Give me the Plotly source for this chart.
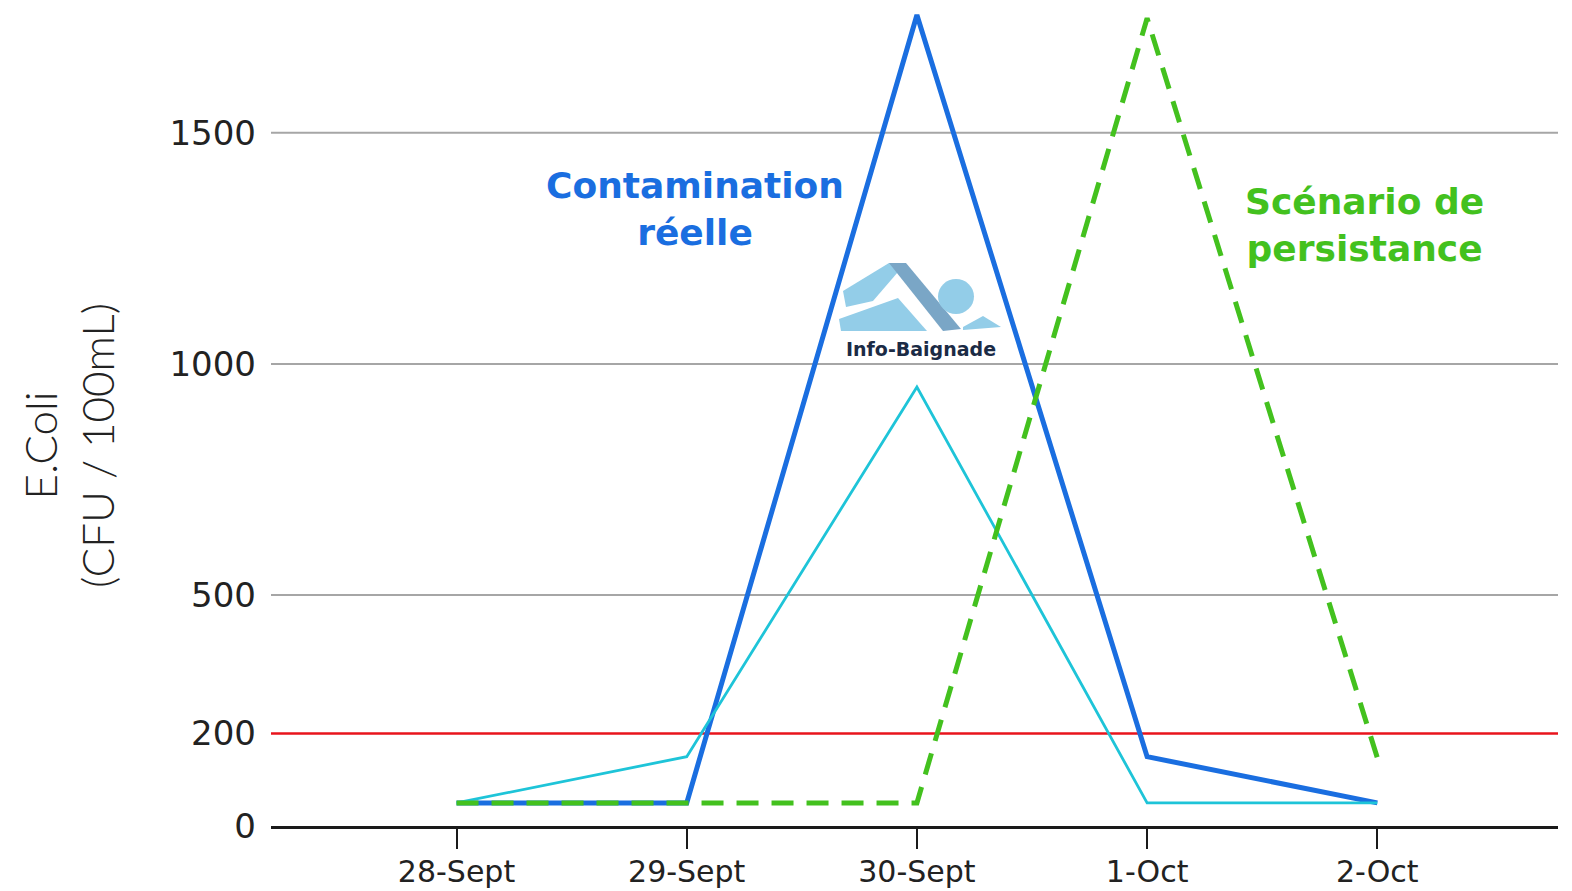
import plotly.graph_objects as go

dates = ["28-Sept", "29-Sept", "30-Sept", "1-Oct", "2-Oct"]
contamination_reelle = [50, 50, 1755, 150, 50]
mesure_cyan = [50, 150, 950, 50, 50]
scenario_persistance = [50, 50, 50, 1748, 148]
y_ticks = [0, 200, 500, 1000, 1500]
seuil = 200

xpos = list(range(len(dates)))

# page offset compensation (browser body margin)
OFF = 7
W, H = 1572 - OFF - 1, 891 - OFF - 1
PLOT_L, PLOT_R, PLOT_T, PLOT_B = 270, 1557, 8, 825
YMAX = 1768

fig = go.Figure()
fig.add_trace(go.Scatter(x=xpos, y=contamination_reelle, mode="lines",
                         line=dict(color="#1a6ee0", width=5), cliponaxis=False))
fig.add_trace(go.Scatter(x=xpos, y=mesure_cyan, mode="lines",
                         line=dict(color="#1ec4d8", width=2.8), cliponaxis=False))
fig.add_trace(go.Scatter(x=xpos, y=scenario_persistance, mode="lines",
                         line=dict(color="#43c11e", width=5, dash="22px,13px"), cliponaxis=False))

# threshold line
fig.add_shape(type="line", xref="paper", x0=0, x1=1, yref="y", y0=seuil, y1=seuil,
              line=dict(color="#e8141c", width=2.5), layer="below")

# gridlines at upper ticks
for v in [500, 1000, 1500]:
    fig.add_shape(type="line", xref="paper", x0=0, x1=1, yref="y", y0=v, y1=v,
                  line=dict(color="#a6a6a6", width=2), layer="below")


# ---- decorative logo (pixel-positioned, paper coordinates) ----
def px(xp, yp):
    return ((xp - PLOT_L) / (PLOT_R - PLOT_L), (PLOT_B - yp) / (PLOT_B - PLOT_T))


def poly(points):
    parts = []
    for i, (a, b) in enumerate(points):
        X, Y = px(a, b)
        parts.append(("M" if i == 0 else "L") + f" {X:.5f} {Y:.5f}")
    return " ".join(parts) + " Z"


logo_fill = "#93cde8"
logo_dark = "#7aa6c6"
fig.add_shape(type="path", xref="paper", yref="paper",
              path=poly([(842, 290), (888, 262), (903, 264), (872, 300), (845, 306)]),
              fillcolor=logo_fill, line=dict(width=0))
fig.add_shape(type="path", xref="paper", yref="paper",
              path=poly([(888, 262), (905, 262), (960, 328), (942, 330)]),
              fillcolor=logo_dark, line=dict(width=0))
fig.add_shape(type="path", xref="paper", yref="paper",
              path=poly([(838, 318), (897, 297), (926, 330), (840, 330)]),
              fillcolor=logo_fill, line=dict(width=0))
cx0, cy0 = px(937, 313)
cx1, cy1 = px(973, 278)
fig.add_shape(type="circle", xref="paper", yref="paper", x0=cx0, y0=cy0, x1=cx1, y1=cy1,
              fillcolor=logo_fill, line=dict(width=0))
fig.add_shape(type="path", xref="paper", yref="paper",
              path=poly([(962, 326), (982, 315), (1000, 326), (962, 329)]),
              fillcolor=logo_fill, line=dict(width=0))
lx, ly = px(920, 348)
fig.add_annotation(x=lx, y=ly, xref="paper", yref="paper", text="<b>Info-Baignade</b>",
                   showarrow=False, font=dict(family="DejaVu Sans", size=19, color="#1b2b45"))

fig.add_annotation(x=1.037, y=1335, xref="x", yref="y",
                   text="<b>Contamination<br>réelle</b>", showarrow=False, align="center",
                   font=dict(family="DejaVu Sans", size=36, color="#1a6ee0"))
fig.add_annotation(x=3.943, y=1300, xref="x", yref="y",
                   text="<b>Scénario de<br>persistance</b>", showarrow=False, align="center",
                   font=dict(family="DejaVu Sans", size=36, color="#43c11e"))

tx, ty = px(67, 445)
fig.add_annotation(x=tx, y=ty, xref="paper", yref="paper", textangle=-90,
                   xanchor="center", yanchor="middle",
                   text="E.Coli<br>(CFU / 100mL)", showarrow=False, align="center",
                   font=dict(family="Lato", size=44, color="#222222", weight=300))

fig.update_layout(
    width=W, height=H,
    margin=dict(l=PLOT_L - OFF, r=W + OFF - PLOT_R, t=PLOT_T - OFF, b=H + OFF - PLOT_B,
                autoexpand=False),
    plot_bgcolor="white", paper_bgcolor="white",
    showlegend=False,
    xaxis=dict(
        range=[-0.806, 4.785], tickvals=xpos, ticktext=dates,
        showgrid=False, zeroline=False,
        showline=True, linecolor="#1a1a1a", linewidth=3,
        ticks="outside", ticklen=20, tickwidth=2, tickcolor="#1a1a1a",
        ticklabelstandoff=-3,
        tickfont=dict(family="DejaVu Sans", size=30, color="#222222"),
    ),
    yaxis=dict(
        range=[0, YMAX], tickvals=y_ticks, ticktext=[str(v) for v in y_ticks],
        showgrid=False, zeroline=False, showline=False,
        ticklabelstandoff=14,
        tickfont=dict(family="DejaVu Sans", size=34, color="#222222"),
    ),
)

fig.write_html("out.html")
